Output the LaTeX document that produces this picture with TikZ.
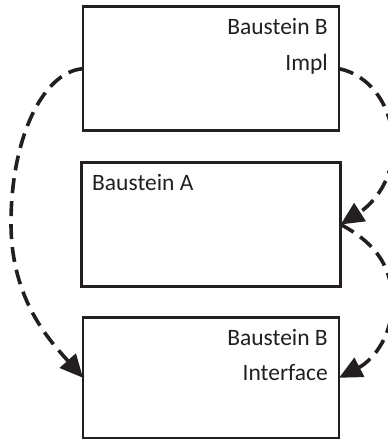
\documentclass[tikz,border=0pt]{standalone}
\usepackage{fontspec}
\setmainfont{Carlito}
\usetikzlibrary{arrows.meta}
\definecolor{inkgray}{RGB}{35,31,32}

\begin{document}
\begin{tikzpicture}[x=1pt, y=-1pt,
    block/.style={draw=inkgray, line width=2.5pt, inner sep=0pt, outer sep=0pt},
    blocktext/.style={font=\fontsize{23.5}{28}\selectfont, text=inkgray, inner sep=0pt},
    uses/.style={draw=inkgray, line width=3.6pt, dash pattern=on 15pt off 8pt,
        -{Triangle[length=23pt,width=21pt]}}]
    \clip (0,0) rectangle (388,439);

    % Draw the three blocks
    \node[block, minimum width=256pt, minimum height=124pt] (implB) at (211,68.7) {};
    \node[block, minimum width=259pt, minimum height=124.4pt] (bstA) at (211.2,224.5) {};
    \node[block, minimum width=256pt, minimum height=121pt] (ifB) at (211,377.8) {};

    % Texts of the blocks
    \node[blocktext, anchor=base east] (implBname) at (328,34.3) {Baustein B};
    \node[blocktext, anchor=base east] (implBkind) at (328,70) {Impl};
    \node[blocktext, anchor=base west] (bstAname) at (92,190) {Baustein A};
    \node[blocktext, anchor=base east] (ifBname) at (328,345) {Baustein B};
    \node[blocktext, anchor=base east] (ifBkind) at (328,380.7) {Interface};

    % Bends of the dependencies
    \coordinate (leftbend) at (11,223);
    \coordinate (upperbend) at (393,146);
    \coordinate (lowerbend) at (392,303);

    % Draw the dependencies (dashed)
    \draw[uses] (implB.west) .. controls +(-40,3) and +(0,-85) .. (leftbend)
        .. controls +(0,77) and +(-33,-37) .. (ifB.west); % Impl to Interface
    \draw[uses] (implB.east) .. controls +(30,6) and +(0,-41) .. (upperbend)
        .. controls +(0,39) and +(28,-18) .. (bstA.east); % Impl to A
    \draw[uses] (bstA.east) .. controls +(29,15.5) and +(1,-41) .. (lowerbend)
        .. controls +(0,37) and +(31,-16) .. (ifB.east); % A to Interface

\end{tikzpicture}
\end{document}
